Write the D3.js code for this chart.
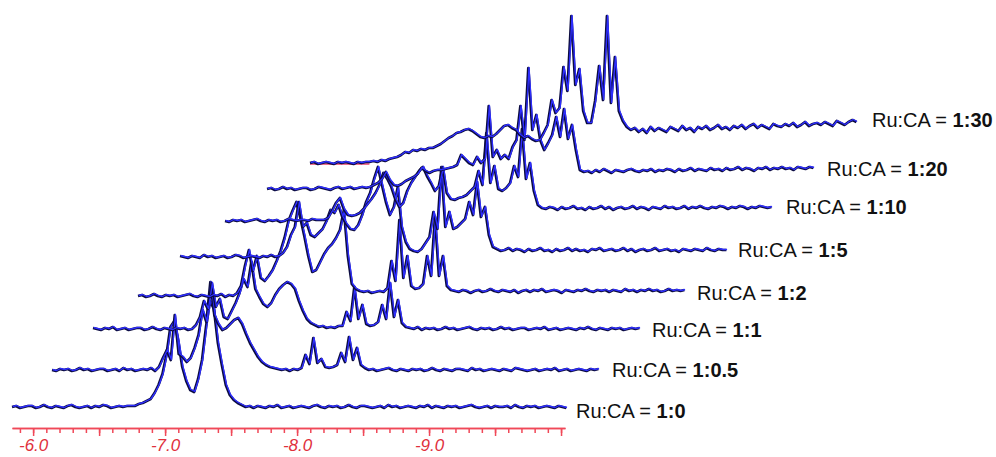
<!DOCTYPE html>
<meta charset="utf-8">
<script src="https://d3js.org/d3.v7.min.js"></script>
<style>
  body { margin: 0; background: #fff; }
  svg { display: block; }
</style>
<div id="chart"></div>
<script>

// ratio of each trace, bottom trace first
var ratios = ["1:0", "1:0.5", "1:1", "1:2", "1:5", "1:10", "1:20", "1:30"];

// chemical shift grid shared by the traces (ppm)
var shiftStart = -5.84, shiftStep = -0.03;

// intensity, one value per grid step
var int_1_0 = [
  0,1,-1,0,1,1,-1,0,2,0,
  -1,1,0,-1,1,2,0,-1,0,1,
  -1,1,0,2,1,-1,0,1,0,1,
  1,1,3,4,6,8,14,22,33,52,
  80,86,66,40,26,17,15,28,47,80,
  106,98,64,42,22,12,7,4,2,0,
  1,-1,1,0,-1,1,0,2,-1,0,
  1,-1,0,1,0,-1,1,2,0,-1,
  1,0,1,-1,0,2,0,-1,1,1,
  0,-1,0,1,-1,2,0,1,-1,0,
  1,0,-1,1,0,2,-1,1,0,-1,
  1,0,1,-1,0,1,2,0,-1,0,
  1,-1,1,0,0,1,-1,2,0,-1,
  1,0,1,-1,0,1,0,-1,1,0,
  -1];
var int_1_05 = [
  0,-1,1,0,1,-1,0,2,0,1,
  -1,0,1,1,-1,0,1,-1,2,0,
  1,-1,0,1,0,2,-1,3,12,20,
  10,55,16,13,8,12,22,35,60,48,
  88,55,46,40,42,46,50,52,46,36,
  27,20,13,8,5,3,2,1,0,1,
  -1,1,0,2,15,6,32,7,11,3,
  2,3,5,17,8,33,10,22,5,2,
  0,1,-1,0,1,2,0,-1,1,0,
  -1,1,0,1,-1,0,2,0,-1,1,
  0,-1,1,1,0,-1,2,0,1,-1,
  0,1,0,-1,1,0,-1,2,1,0,
  -1,0,1,-1,0,1,0,2,-1,0,
  1,-1,0,1,0,-1,1,0,1];
var int_1_1 = [
  1,0,-1,1,0,2,-1,0,1,-1,
  0,1,1,-1,0,2,0,-1,1,0,
  -1,1,0,1,-1,0,4,12,28,20,
  46,22,30,12,10,18,26,36,50,42,
  67,40,32,25,22,26,34,40,44,47,
  45,40,28,18,10,6,4,2,3,1,
  2,1,3,3,17,8,42,10,24,5,
  3,4,7,24,10,46,12,29,6,2,
  1,0,2,-1,1,0,1,-1,0,2,
  0,1,-1,0,1,2,0,-1,1,0,
  1,-1,0,2,0,1,-1,0,1,1,
  -1,0,1,0,2,-1,0,1,-1,0,
  1,0,-1,1,0,2,0,-1,1,0,
  -1,1,0,1,-1,0,1,0,1];
var int_1_2 = [
  0,1,-1,0,2,0,-1,1,0,1,
  -1,0,1,2,0,-1,1,0,-1,1,
  0,2,-1,1,0,3,10,30,46,25,
  40,18,15,20,26,35,45,58,75,85,
  94,78,60,40,24,26,34,42,48,52,
  58,66,86,40,12,7,5,4,5,3,
  4,5,4,8,35,15,76,18,40,10,
  7,8,12,40,20,79,20,40,10,6,
  5,4,6,5,3,5,6,4,5,7,
  5,4,6,5,4,6,3,5,6,4,
  6,5,7,4,5,6,5,3,6,5,
  4,6,5,7,5,4,6,5,6,4,
  6,5,4,7,5,6,4,6,5,7,
  5,6,4,5,7,5,6,5,6];
var int_1_5 = [
  1,0,-1,1,0,-1,2,0,1,-1,
  0,1,-1,0,2,1,-1,0,1,0,
  -1,1,0,2,0,1,4,10,22,30,
  55,30,34,22,20,24,28,36,47,44,
  52,40,33,28,27,32,42,55,64,78,
  90,72,55,42,50,70,30,15,8,6,
  5,8,14,20,45,28,90,30,45,28,
  30,34,38,55,42,75,40,50,22,10,
  8,6,7,9,6,8,7,5,8,6,
  7,9,6,7,5,8,6,7,9,6,
  8,6,7,5,8,7,9,6,7,8,
  6,7,9,6,8,5,7,8,6,7,
  9,6,7,8,6,7,5,8,7,6,
  8,7,6,9,7,6,8,7,7];
var int_1_10 = [
  0,-1,1,0,1,-1,0,1,2,0,
  -1,1,0,1,-1,0,2,1,0,1,
  1,0,2,1,1,1,3,10,18,23,
  12,6,5,6,8,12,17,22,28,36,
  48,42,34,22,14,18,30,38,44,50,
  54,45,38,30,35,54,28,22,21,23,
  24,26,30,34,50,36,88,38,55,32,
  30,33,38,55,44,92,42,58,30,16,
  13,12,14,13,11,14,12,13,15,12,
  13,11,14,12,13,15,12,14,11,13,
  14,12,13,15,12,14,13,11,14,13,
  12,15,13,14,12,13,15,12,14,13,
  15,13,12,14,13,15,14,12,14,13,
  15,14,12,14,13,15,14,13,14];
var int_1_20 = [
  0,1,-1,0,2,0,1,-1,0,1,
  1,-1,0,2,1,0,-1,1,2,0,
  1,2,0,1,2,1,2,4,6,10,
  17,9,4,3,5,8,10,12,15,21,
  18,16,18,19,19,20,21,22,24,34,
  30,26,24,32,26,30,83,32,39,30,
  34,30,42,49,83,49,121,59,74,49,
  39,46,54,72,52,80,50,64,39,19,
  17,18,16,19,17,20,18,16,19,18,
  17,19,20,18,17,19,18,20,17,19,
  18,20,19,17,20,18,19,21,18,20,
  19,18,21,19,20,18,21,19,20,22,
  19,21,20,18,21,20,22,19,21,20,
  22,20,21,19,22,21,20,22,21];
var int_1_30 = [
  0,1,-1,0,1,0,-1,1,0,1,
  0,-1,1,0,1,1,2,1,3,2,
  4,5,6,8,11,10,13,12,14,13,
  15,15,17,19,22,25,27,30,31,33,
  34,32,29,26,25,27,26,29,33,37,
  38,35,33,28,25,27,24,22,23,30,
  38,63,50,55,96,72,147,78,94,52,
  40,40,62,97,63,147,60,106,52,42,
  36,33,35,31,34,30,36,32,35,33,
  31,36,34,32,37,33,35,31,36,34,
  37,33,35,38,34,36,33,37,35,38,
  34,37,39,35,38,36,34,39,37,36,
  39,37,40,36,38,41,37,39,40,38,
  41,39,37,42,40,38,41,43,41];

var spectra = [int_1_0, int_1_05, int_1_1, int_1_2, int_1_5, int_1_10, int_1_20, int_1_30];

// axis: ppm extent and labelled values
var axisDomain = [-5.84, -10.03];
var tickLabels = [-6.0, -7.0, -8.0, -9.0];

// layout of the stack
var width = 996, height = 457;
var offsetX = [0, 40, 81, 126, 168, 213, 255, 298];
var baseY = [407, 370, 329, 296, 257, 221, 189, 163];
var labelX = [576, 612, 652, 697, 738, 786, 827, 872];
var labelY = [418, 377, 337, 300, 257, 214, 176, 127];

var svg = d3.select("#chart").append("svg")
    .attr("width", width)
    .attr("height", height);

var x = d3.scaleLinear().domain(axisDomain).range([12, 565]);
var y = d3.scaleLinear().domain([0, 150]).range([0, -150]);

var line = d3.line()
    .x(function(d) { return x(d.ppm); })
    .y(function(d) { return y(d.h); });

spectra.forEach(function(vals, k) {
    var pts = vals.map(function(v, i) { return {ppm: shiftStart + shiftStep * i, h: v}; });
    var g = svg.append("g")
        .attr("transform", "translate(" + offsetX[k] + "," + baseY[k] + ")");

    // red selection mark under the start of the top trace
    if (k == spectra.length - 1) {
        g.append("path")
            .datum(pts.slice(0, 16).map(function(d) { return {ppm: d.ppm, h: -1}; }))
            .attr("d", line)
            .attr("fill", "none")
            .attr("stroke", "#e8406a")
            .attr("stroke-width", 1.6);
    }

    g.append("path")
        .datum(pts)
        .attr("d", line)
        .attr("fill", "none")
        .attr("stroke", "#0c0c40")
        .attr("stroke-width", 2.7)
        .attr("stroke-linejoin", "round");
    g.append("path")
        .datum(pts)
        .attr("d", line)
        .attr("transform", "translate(0.7,-0.5)")
        .attr("fill", "none")
        .attr("stroke", "#2e2eff")
        .attr("stroke-width", 1.4)
        .attr("stroke-linejoin", "round");

    var t = svg.append("text")
        .attr("x", labelX[k])
        .attr("y", labelY[k])
        .style("font-family", "'Liberation Sans', Arial, sans-serif")
        .style("font-size", "20px")
        .style("white-space", "pre")
        .attr("fill", "#111");
    t.append("tspan").text("Ru:CA = ");
    t.append("tspan").attr("font-weight", "bold").text(ratios[k]);
});

// ppm axis
var minorTicks = d3.range(59, 101).map(function(v) { return -v / 10; });
var majorTicks = d3.range(12, 21).map(function(v) { return -v / 2; });

var axisG = svg.append("g").attr("transform", "translate(0,428)");
axisG.append("g")
    .call(d3.axisBottom(x).tickValues(minorTicks).tickSize(5).tickSizeOuter(0).tickFormat(""));
axisG.append("g")
    .call(d3.axisBottom(x).tickValues(majorTicks).tickSize(8).tickSizeOuter(0)
        .tickFormat(function(d) { return tickLabels.indexOf(d) >= 0 ? d.toFixed(1) : ""; }));

axisG.selectAll("path, line")
    .attr("stroke", "#f04858")
    .attr("stroke-width", 1.5);
axisG.selectAll("text")
    .attr("fill", "#e0303c")
    .style("font-family", "'Liberation Sans', Arial, sans-serif")
    .style("font-size", "17px")
    .style("font-style", "italic");

</script>
